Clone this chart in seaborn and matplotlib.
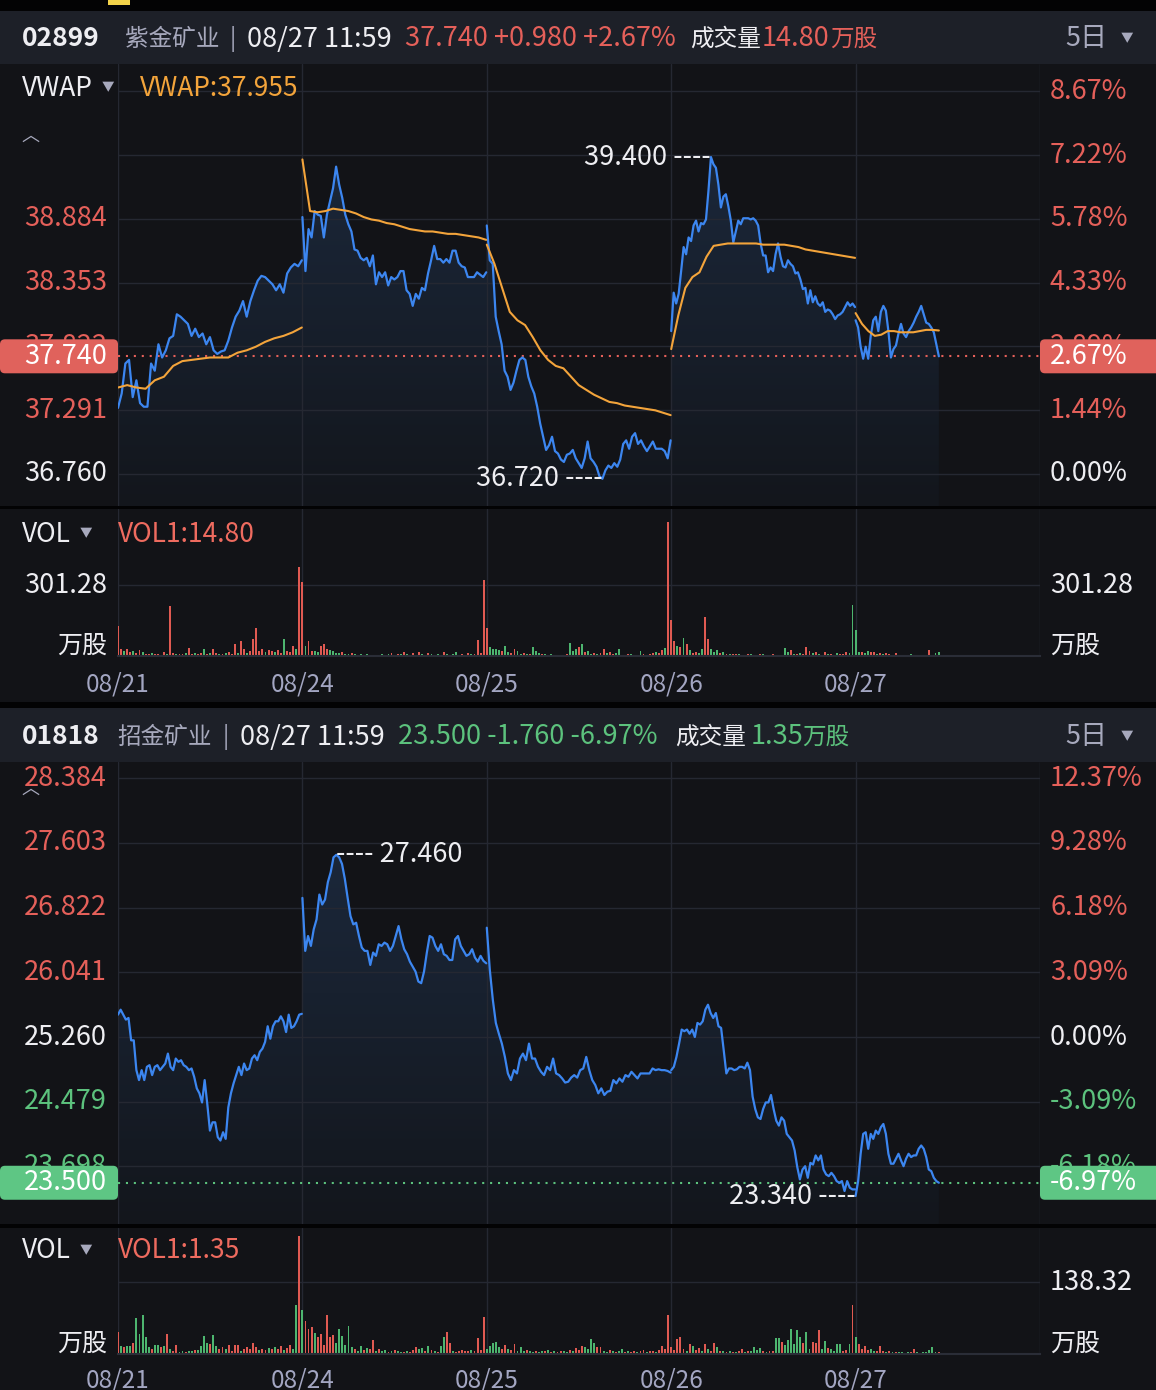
import numpy as np
import pandas as pd
import matplotlib
matplotlib.use('Agg')
import matplotlib.pyplot as plt
from matplotlib.patches import Rectangle, FancyBboxPatch
from matplotlib.colors import LinearSegmentedColormap
import seaborn as sns

W, H = 1156, 1390

DAYS = ['08/21', '08/24', '08/25', '08/26', '08/27']
DAY_MIN = 330        # 09:30-12:00 + 13:00-16:00
LAST_DAY_MIN = 150   # 08/27 up to 11:59
BAR_MIN = 5.5
STAMP = '08/27 11:59'

# ---------------- 02899 紫金矿业 ----------------
zj_code = '02899'
zj_name = '紫金矿业'
zj_prev = 36.760
zj_vol_today = 14.80
zj_ticks = [36.760, 37.291, 37.822, 38.353, 38.884, 39.415, 39.946]
zj_vol_tick = 301.28

zj_px_0821 = [37.31, 37.43, 37.68, 37.71, 37.40, 37.54, 37.35, 37.32, 37.32, 37.68,
              37.62, 37.84, 37.73, 37.79, 37.89, 37.91, 38.09, 38.07, 38.04, 38.01,
              37.91, 37.97, 37.90, 37.93, 37.84, 37.90, 37.79, 37.76, 37.78, 37.79,
              37.87, 37.98, 38.07, 38.12, 38.20, 38.07, 38.20, 38.29, 38.37, 38.41,
              38.40, 38.37, 38.34, 38.29, 38.34, 38.27, 38.43, 38.48, 38.51, 38.49, 38.54]
zj_px_0824 = [38.90, 38.45, 38.80, 38.73, 38.95, 38.92, 38.91, 38.73, 38.92, 39.03,
              39.14, 39.32, 39.17, 39.06, 38.92, 38.84, 38.78, 38.63, 38.62, 38.56,
              38.54, 38.56, 38.49, 38.58, 38.34, 38.44, 38.40, 38.44, 38.33, 38.40,
              38.38, 38.40, 38.45, 38.45, 38.29, 38.26, 38.16, 38.26, 38.22, 38.31,
              38.29, 38.43, 38.54, 38.66, 38.55, 38.55, 38.52, 38.55, 38.52, 38.62,
              38.62, 38.52, 38.49, 38.48, 38.40, 38.40, 38.40, 38.44, 38.42, 38.40, 38.44]
zj_px_0825 = [38.83, 38.54, 38.51, 38.07, 37.95, 37.84, 37.62, 37.57, 37.46, 37.52,
              37.62, 37.71, 37.73, 37.71, 37.57, 37.49, 37.43, 37.32, 37.18, 37.07,
              36.96, 37.00, 37.07, 36.95, 36.93, 36.88, 36.86, 36.92, 36.93, 36.96,
              36.89, 36.85, 36.81, 36.89, 37.03, 36.89, 36.86, 36.82, 36.74, 36.72,
              36.79, 36.83, 36.81, 36.85, 36.82, 36.88, 37.01, 37.04, 36.97, 37.07,
              37.10, 37.01, 37.04, 36.99, 36.95, 36.99, 37.03, 36.97, 36.97, 36.97,
              36.95, 36.89, 37.04]
zj_px_0826 = [37.95, 38.27, 38.18, 38.26, 38.45, 38.65, 38.59, 38.73, 38.70, 38.83,
              38.87, 38.78, 38.85, 38.84, 38.88, 39.12, 39.40, 39.34, 39.31, 39.17,
              38.98, 39.07, 39.09, 38.99, 38.87, 38.69, 38.78, 38.87, 38.84, 38.89,
              38.89, 38.89, 38.88, 38.89, 38.87, 38.83, 38.68, 38.58, 38.58, 38.44,
              38.48, 38.45, 38.59, 38.68, 38.57, 38.49, 38.48, 38.54, 38.51, 38.49,
              38.43, 38.44, 38.38, 38.30, 38.31, 38.18, 38.29, 38.19, 38.24, 38.18,
              38.16, 38.19, 38.11, 38.13, 38.12, 38.09, 38.05, 38.08, 38.09, 38.11,
              38.15, 38.19, 38.16, 38.18, 38.15]
zj_px_0827 = [38.04, 37.98, 37.82, 37.72, 37.82, 37.72, 37.91, 38.04, 38.07, 37.95,
              38.11, 38.16, 38.12, 37.95, 37.73, 37.80, 37.83, 37.93, 38.01, 37.93,
              37.90, 37.95, 37.98, 38.02, 38.07, 38.11, 38.16, 38.09, 38.02, 38.01,
              37.98, 37.94, 37.84, 37.74]

zj_vwap_0821 = [37.48, 37.50, 37.48, 37.47, 37.54, 37.57, 37.66, 37.70, 37.71, 37.72,
                37.73, 37.73, 37.73, 37.77, 37.79, 37.82, 37.86, 37.89, 37.91, 37.94, 37.98]
zj_vwap_0824 = [39.38, 38.95, 38.94, 38.95, 38.97, 38.96, 38.95, 38.93, 38.90, 38.88,
                38.87, 38.85, 38.84, 38.82, 38.80, 38.79, 38.78, 38.78, 38.77, 38.76,
                38.76, 38.75, 38.74, 38.73, 38.71]
zj_vwap_0825 = [38.67, 38.51, 38.31, 38.11, 38.04, 38.00, 37.90, 37.79, 37.71, 37.66,
                37.64, 37.57, 37.50, 37.46, 37.42, 37.39, 37.36, 37.35, 37.33, 37.32,
                37.31, 37.30, 37.29, 37.27, 37.25]
zj_vwap_0826 = [37.80, 38.08, 38.31, 38.40, 38.44, 38.57, 38.66, 38.67, 38.68, 38.68,
                38.68, 38.68, 38.68, 38.67, 38.67, 38.67, 38.67, 38.66, 38.65, 38.63,
                38.62, 38.61, 38.60, 38.59, 38.58, 38.57, 38.56]
zj_vwap_0827 = [38.10, 38.01, 37.95, 37.91, 37.92, 37.95, 37.95, 37.94, 37.94, 37.94,
                37.95, 37.96, 37.96, 37.955]

zj_vol_0821 = [129, 28, 20, 30, 18, 22, 12, 24, 15, 10,
               9, 12, 8, 10, 6, 18, 10, 211, 14, 8,
               10, 7, 12, 32, 10, 14, 9, 12, 28, 8,
               11, 30, 12, 9, 8, 12, 15, 10, 51, 14,
               62, 30, 12, 20, 74, 118, 22, 28, 18, 26,
               22, 15, 24, 12, 74, 20, 16, 42, 30, 379]
zj_dir_0821 = 'rrgrrgrrgr rgrrgrgrrg rrgrrgrrgr grrgrgrrrg rrgrrrrrgr rgrrgrrrgr'
zj_vol_0824 = [312, 42, 62, 22, 20, 18, 42, 49, 30, 24,
               20, 14, 12, 16, 10, 8, 12, 9, 6, 8,
               5, 7, 4, 5, 3, 6, 9, 5, 7, 12,
               6, 9, 10, 16, 8, 5, 12, 6, 18, 8,
               5, 14, 8, 6, 10, 4, 16, 8, 6, 9,
               18, 5, 7, 6, 12, 8, 10, 67, 14, 323]
zj_dir_0824 = 'rgrrggrrrg gggrggrgrg rgrgrggrgr grgrgrrgrg rrgrgrrgrg grrgrgrrrr'
zj_vol_0825 = [118, 38, 28, 30, 26, 20, 44, 16, 12, 30,
               20, 8, 12, 10, 9, 38, 22, 12, 8, 10,
               6, 9, 5, 4, 6, 3, 8, 56, 22, 30,
               38, 49, 18, 22, 10, 14, 8, 12, 28, 14,
               16, 10, 12, 28, 6, 5, 8, 10, 4, 6,
               21, 9, 6, 10, 14, 18, 12, 25, 32, 569]
zj_dir_0825 = 'rggggrggrr ggrgrgggrg rgrgrgrggg rgrggrgrrg rrggrgrgrg grgrrgrrgr'
zj_vol_0826 = [153, 62, 42, 38, 76, 49, 25, 14, 18, 12,
               28, 167, 74, 31, 16, 24, 12, 16, 10, 9,
               8, 7, 10, 6, 5, 8, 10, 6, 5, 9,
               7, 4, 6, 8, 5, 3, 4, 32, 16, 26,
               10, 8, 14, 9, 38, 21, 12, 18, 9, 6,
               18, 8, 10, 6, 12, 8, 10, 17, 12, 215]
zj_dir_0826 = 'rrgrgrgrrg grrgggrgrg rrgrgrgrgr grgrgrgggr grgrrrgrgr rgrrgrrrgg'
zj_vol_0827 = [111, 18, 18, 12, 21, 16, 17, 10, 12, 8,
               13, 9, 6, 14, 5, 4, 6, 3, 7, 5,
               6, 4, 3, 5, 25, 3, 14, 15]
zj_dir_0827 = 'ggrggrrgrg rrgrgrrggg rrgrrrgg'

# ---------------- 01818 招金矿业 ----------------
zh_code = '01818'
zh_name = '招金矿业'
zh_prev = 25.260
zh_vol_today = 1.35
zh_ticks = [23.698, 24.479, 25.260, 26.041, 26.822, 27.603, 28.384]
zh_vol_tick = 138.32

zh_px_0821 = [25.53, 25.59, 25.53, 25.47, 25.49, 25.22, 25.22, 24.86, 24.74, 24.86,
              24.74, 24.90, 24.92, 24.80, 24.90, 24.92, 24.86, 24.90, 24.94, 25.06,
              24.90, 24.86, 25.00, 24.96, 24.98, 24.92, 24.90, 24.86, 24.88, 24.78,
              24.64, 24.58, 24.47, 24.74, 24.45, 24.13, 24.23, 24.23, 24.05, 24.01,
              24.11, 24.03, 24.41, 24.58, 24.70, 24.80, 24.90, 24.80, 24.94, 24.86,
              24.88, 25.00, 25.04, 24.98, 25.08, 25.12, 25.20, 25.39, 25.24, 25.39,
              25.45, 25.45, 25.51, 25.45, 25.32, 25.53, 25.37, 25.39, 25.45, 25.53, 25.54]
zh_px_0824 = [26.94, 26.30, 26.48, 26.36, 26.56, 26.68, 26.98, 26.86, 26.92, 27.13,
              27.25, 27.43, 27.46, 27.43, 27.35, 27.17, 26.94, 26.72, 26.62, 26.64,
              26.48, 26.34, 26.30, 26.30, 26.13, 26.28, 26.24, 26.38, 26.36, 26.40,
              26.38, 26.30, 26.36, 26.48, 26.60, 26.44, 26.32, 26.26, 26.17, 26.11,
              26.05, 25.93, 25.91, 26.05, 26.28, 26.48, 26.46, 26.36, 26.30, 26.38,
              26.26, 26.24, 26.19, 26.19, 26.44, 26.48, 26.36, 26.30, 26.24, 26.26,
              26.32, 26.22, 26.17, 26.24, 26.18, 26.15]
zh_px_0825 = [26.58, 26.07, 25.71, 25.43, 25.30, 25.18, 25.02, 24.82, 24.74, 24.86,
              24.82, 25.00, 25.06, 24.98, 25.18, 25.00, 25.00, 24.90, 24.84, 24.80,
              24.90, 24.86, 25.00, 24.82, 24.80, 24.76, 24.71, 24.72, 24.77, 24.80,
              24.77, 24.86, 24.88, 25.02, 24.86, 24.74, 24.68, 24.58, 24.64, 24.56,
              24.60, 24.61, 24.74, 24.70, 24.76, 24.72, 24.80, 24.78, 24.84, 24.80,
              24.76, 24.82, 24.82, 24.82, 24.82, 24.88, 24.86, 24.87, 24.86, 24.86,
              24.85, 24.83]
zh_px_0826 = [24.86, 24.90, 25.02, 25.18, 25.35, 25.33, 25.35, 25.30, 25.35, 25.26,
              25.43, 25.41, 25.45, 25.59, 25.65, 25.55, 25.49, 25.55, 25.39, 25.37,
              25.10, 24.82, 24.88, 24.88, 24.86, 24.87, 24.90, 24.90, 24.88, 24.95,
              24.86, 24.54, 24.39, 24.29, 24.27, 24.39, 24.47, 24.47, 24.56, 24.39,
              24.25, 24.19, 24.29, 24.25, 24.09, 24.05, 24.01, 23.89, 23.69, 23.54,
              23.66, 23.70, 23.56, 23.74, 23.72, 23.83, 23.77, 23.83, 23.66, 23.60,
              23.58, 23.62, 23.58, 23.52, 23.50, 23.52, 23.40, 23.52, 23.44, 23.42, 23.42]
zh_px_0827 = [23.34, 23.52, 23.85, 24.09, 24.11, 23.91, 24.09, 24.03, 24.13, 24.09,
              24.17, 24.21, 24.09, 23.85, 23.73, 23.73, 23.79, 23.85, 23.77, 23.70,
              23.79, 23.85, 23.81, 23.83, 23.83, 23.91, 23.95, 23.91, 23.81, 23.66,
              23.64, 23.56, 23.52, 23.50]

zh_vol_0821 = [43, 16, 14, 16, 16, 21, 69, 39, 75, 32,
               14, 10, 18, 18, 13, 16, 39, 10, 6, 18,
               3, 5, 4, 6, 5, 8, 8, 16, 35, 21,
               19, 37, 16, 10, 14, 10, 18, 6, 18, 18,
               6, 10, 13, 10, 22, 14, 8, 10, 8, 12,
               10, 14, 10, 16, 8, 12, 18, 10, 95, 226]
zh_dir_0821 = 'rgrggrgggg grggrgrgrr ggrggrgggg rggrrgrrrr grrrrrgrrg rgrrgrrggr'
zh_vol_0824 = [85, 64, 48, 51, 40, 32, 38, 18, 74, 32,
               37, 22, 48, 34, 18, 54, 14, 10, 6, 16,
               8, 12, 10, 26, 6, 10, 5, 8, 4, 6,
               8, 5, 4, 3, 6, 4, 8, 14, 10, 12,
               6, 16, 8, 6, 4, 16, 32, 42, 22, 5,
               4, 6, 8, 5, 6, 7, 5, 31, 8, 71]
zh_dir_0824 = 'grrrgrrrrr rggggggrgg rgrrgrggrg rggrgrrrgg rgrgrggrrg rrrrrgrrrr'
zh_vol_0825 = [10, 16, 22, 24, 13, 10, 18, 10, 8, 19,
               6, 13, 5, 8, 6, 4, 5, 4, 6, 5,
               8, 4, 6, 3, 5, 6, 4, 8, 5, 12,
               8, 16, 13, 10, 28, 22, 13, 13, 6, 4,
               8, 5, 4, 6, 10, 3, 5, 4, 6, 3,
               5, 8, 4, 5, 6, 4, 7, 15, 9, 74]
zh_dir_0825 = 'gggggrrgrr gggrggrggr grgrrggrgr rrggggrrgg rgrggrgrrg rrgrrgrrrr'
zh_vol_0826 = [13, 8, 29, 32, 10, 6, 19, 16, 8, 11,
               6, 19, 10, 5, 22, 14, 6, 6, 4, 5,
               3, 4, 6, 10, 4, 5, 6, 14, 8, 12,
               5, 4, 6, 6, 31, 31, 24, 17, 27, 48,
               19, 46, 33, 21, 42, 10, 24, 21, 47, 10,
               25, 11, 10, 6, 19, 19, 5, 8, 19, 95]
zh_dir_0826 = 'rrrrrgrgrr grgrrgrgrg rgrrgrgggg rgrrggrggg gggrggrrrg grggggrrgr'
zh_vol_0827 = [32, 19, 10, 16, 8, 10, 5, 6, 16, 6,
               3, 5, 4, 3, 3, 4, 2, 3, 4, 10,
               4, 2, 3, 4, 8, 13, 3, 4]
zh_dir_0827 = 'grrrrggrrr grgrggrgrr grgggggr'

# ---------------- style ----------------
BG = '#121317'
HEAD = '#1d2028'
SEP = '#030304'
GRID = '#252832'
UP = '#e5605a'
DOWN = '#5cc27d'
UP_BAR = '#e05a52'
DOWN_BAR = '#4db56f'
UP_BOX = '#e0625c'
DOWN_BOX = '#5ec684'
LINE = '#3c86f0'
VWAP_C = '#f3a43b'
TXT = '#eeeef2'
SUB = '#a7a9bd'
DATE_C = '#a3a6c2'
VOL_C = '#ee6b5f'
FS = 19.5        # numbers
FS_CJK = 17      # chinese text
FS_DATE = 17.5
FS_TAG = 19
FILL = LinearSegmentedColormap.from_list('fill', ['#13161c', '#1d2c42'])

sns.set_theme(style='dark')
plt.rcParams['font.family'] = ['Noto Sans CJK SC', 'DejaVu Sans']
plt.rcParams['axes.unicode_minus'] = False

fig = plt.figure(figsize=(W / 100, H / 100), dpi=100, facecolor=BG)
bg = fig.add_axes([0, 0, 1, 1], zorder=-5)
bg.set_xlim(0, W)
bg.set_ylim(H, 0)
bg.axis('off')
ov = fig.add_axes([0, 0, 1, 1], zorder=5)
ov.set_xlim(0, W)
ov.set_ylim(H, 0)
ov.axis('off')


def frame(y0, y1):
    return [118 / W, 1 - y1 / H, 922 / W, (y1 - y0) / H]


def band(y0, y1, color, x0=0, x1=W):
    bg.add_patch(Rectangle((x0, y0), x1 - x0, y1 - y0, color=color, lw=0))


def tone(v, prev):
    if v > prev + 1e-9:
        return UP
    if v < prev - 1e-9:
        return DOWN
    return TXT


def day_frame(day_lists, col):
    parts = []
    for d, vals in enumerate(day_lists):
        minutes = LAST_DAY_MIN if d == len(day_lists) - 1 else DAY_MIN
        xs = d + np.linspace(0, (minutes - 1) / DAY_MIN, len(vals))
        parts.append(pd.DataFrame({'day': DAYS[d], 'x': xs, col: vals}))
    return pd.concat(parts, ignore_index=True)


def vol_frame(vol_lists, dir_lists):
    parts = []
    for d, (vals, dirs) in enumerate(zip(vol_lists, dir_lists)):
        xs = d + np.arange(len(vals)) * BAR_MIN / DAY_MIN
        up = [ch == 'r' for ch in dirs.replace(' ', '')]
        parts.append(pd.DataFrame({'x': xs, 'vol': vals, 'up': up}))
    return pd.concat(parts, ignore_index=True)


def header(y, code, name, prev, last, vol_today, xs):
    c = tone(last, prev)
    chg = last - prev
    pct = chg / prev * 100
    ov.text(xs[0], y, code, color=TXT, fontweight='bold', va='center', fontsize=FS - 0.5)
    ov.text(xs[1], y, name, color=SUB, va='center', fontsize=FS_CJK)
    ov.text(xs[2], y, '|', color=SUB, va='center', fontsize=FS_CJK)
    ov.text(xs[3], y, STAMP, color=TXT, va='center', fontsize=FS)
    ov.text(xs[4], y, f'{last:.3f} {chg:+.3f} {pct:+.2f}%', color=c, va='center', fontsize=FS)
    ov.text(xs[5], y, '成交量', color=TXT, va='center', fontsize=FS_CJK)
    ov.text(xs[6], y, f'{vol_today:.2f}', color=c, va='center', fontsize=FS)
    ov.text(xs[7], y, '万股', color=c, va='center', fontsize=FS_CJK)
    ov.text(1065, y, '5日', color=SUB, va='center', fontsize=FS)
    ov.text(1121, y, '▼', color=SUB, va='center', fontsize=9)


def price_panel(y0, y1, px_days, prev, ticks, left_skip, ylim, vwap_days=None):
    ax = fig.add_axes(frame(y0, y1))
    ax.set_facecolor(BG)
    df = day_frame(px_days, 'price')
    last = df['price'].iloc[-1]

    poly = ax.fill_between(df['x'], df['price'], ylim[0], lw=0)
    clip = poly.get_paths()[0]
    poly.remove()
    grad = ax.imshow(np.linspace(0, 1, 256)[:, None], extent=(0, 5, ylim[0], ylim[1]),
                     origin='lower', aspect='auto', cmap=FILL, zorder=0.3)
    grad.set_clip_path(clip, transform=ax.transData)

    sns.lineplot(data=df, x='x', y='price', units='day', estimator=None,
                 color=LINE, lw=1.6, ax=ax, legend=False, zorder=3)
    if vwap_days is not None:
        dv = day_frame(vwap_days, 'vwap')
        sns.lineplot(data=dv, x='x', y='vwap', units='day', estimator=None,
                     color=VWAP_C, lw=1.5, ax=ax, legend=False, zorder=4)
    ax.axhline(last, color=tone(last, prev), lw=1.5, ls=(0, (1, 2.8)), zorder=2)

    ax.set_xlim(0, 5)
    ax.set_ylim(*ylim)
    ax.set_xticks(range(6))
    ax.set_yticks(ticks)
    ax.grid(True, color=GRID, lw=1)
    ax.tick_params(length=0, labelbottom=False, labelleft=False)
    ax.set_xlabel('')
    ax.set_ylabel('')
    for s in ax.spines.values():
        s.set_visible(False)

    ytr = ax.get_yaxis_transform()
    for k, v in enumerate(ticks):
        c = tone(v, prev)
        if k < len(ticks) - left_skip:
            ax.text(-11 / 922, v, f'{v:.3f}', transform=ytr, ha='right', va='center',
                    color=c, fontsize=FS, clip_on=False)
        ax.text(1 + 10 / 922, v, f'{(v / prev - 1) * 100:.2f}%', transform=ytr,
                ha='left', va='center', color=c, fontsize=FS, clip_on=False)

    # high / low markers
    for idx in (df['price'].idxmax(), df['price'].idxmin()):
        x, v = df.loc[idx, 'x'], df.loc[idx, 'price']
        if x > 2.5:
            ax.text(x, v, f'{v:.3f} ----', ha='right', va='center', color=TXT,
                    fontsize=FS, zorder=6)
        else:
            ax.text(x, v, f'---- {v:.3f}', ha='left', va='center', color=TXT,
                    fontsize=FS, zorder=6)

    # last price tags
    y = H - ax.transData.transform((0, last))[1]
    fc = UP_BOX if last >= prev else DOWN_BOX
    ov.add_patch(FancyBboxPatch((0, y - 17), 118, 34, boxstyle='round,pad=0,rounding_size=5',
                                fc=fc, ec='none'))
    ov.add_patch(FancyBboxPatch((1040, y - 17), 130, 34, boxstyle='round,pad=0,rounding_size=5',
                                fc=fc, ec='none'))
    ov.text(107, y, f'{last:.3f}', ha='right', va='center', color='white', fontsize=FS)
    ov.text(1050, y, f'{(last / prev - 1) * 100:.2f}%', ha='left', va='center',
            color='white', fontsize=FS)
    return ax


def volume_panel(y0, y1, vol_days, dir_days, vol_tick, vmax, left_label, date_y):
    axv = fig.add_axes(frame(y0, y1))
    axv.set_facecolor(BG)
    dv = vol_frame(vol_days, dir_days)
    axv.bar(dv['x'], dv['vol'], width=0.62 * BAR_MIN / DAY_MIN,
            color=np.where(dv['up'], UP_BAR, DOWN_BAR), lw=0, zorder=2)
    axv.set_xlim(0, 5)
    axv.set_ylim(0, vmax)
    axv.set_xticks(range(6))
    axv.set_yticks([vol_tick])
    axv.grid(True, color=GRID, lw=1)
    axv.tick_params(length=0, labelbottom=False, labelleft=False)
    for name, s in axv.spines.items():
        s.set_visible(name == 'bottom')
    axv.spines['bottom'].set_color('#2a2d37')
    axv.spines['bottom'].set_linewidth(1.5)

    ytr = axv.get_yaxis_transform()
    if left_label:
        axv.text(-11 / 922, vol_tick, f'{vol_tick:.2f}', transform=ytr, ha='right',
                 va='center', color=TXT, fontsize=FS, clip_on=False)
    axv.text(1 + 10 / 922, vol_tick, f'{vol_tick:.2f}', transform=ytr, ha='left',
             va='center', color=TXT, fontsize=FS, clip_on=False)
    ov.text(107, y1 - 10, '万股', ha='right', va='center', color=TXT, fontsize=FS_CJK + 1)
    ov.text(1050, y1 - 10, '万股', ha='left', va='center', color=TXT, fontsize=FS_CJK + 1)

    xtr = axv.get_xaxis_transform()
    off = -(date_y - y1) / (y1 - y0)
    for d, lab in enumerate(DAYS):
        axv.text(d, off, lab, transform=xtr, ha='center', va='center', color=DATE_C,
                 fontsize=FS_DATE, clip_on=False)
    return axv


# ---------------- frame bands ----------------
band(0, 11, SEP)
band(0, 5, '#f3d34a', 108, 130)
band(11, 64, HEAD)
band(506, 509, SEP)
band(702, 708, SEP)
band(708, 762, HEAD)
band(1224, 1228, SEP)

# ---------------- 02899 ----------------
header(39, zj_code, zj_name, zj_prev, zj_px_0827[-1], zj_vol_today,
       [22, 125, 230, 247, 405, 690, 762, 830])
price_panel(64, 506, [zj_px_0821, zj_px_0824, zj_px_0825, zj_px_0826, zj_px_0827],
            zj_prev, zj_ticks, 2, (36.493, 40.175),
            vwap_days=[zj_vwap_0821, zj_vwap_0824, zj_vwap_0825, zj_vwap_0826, zj_vwap_0827])
ov.text(22, 88, 'VWAP', color=TXT, va='center', fontsize=FS_TAG)
ov.text(102, 88, '▼', color=SUB, va='center', fontsize=9)
ov.text(140, 88, f'VWAP:{zj_vwap_0827[-1]:.3f}', color=VWAP_C, va='center', fontsize=FS_TAG)
ov.text(30, 136, '︿', color=SUB, ha='center', va='center', fontsize=13)
volume_panel(509, 656, [zj_vol_0821, zj_vol_0824, zj_vol_0825, zj_vol_0826, zj_vol_0827],
             [zj_dir_0821, zj_dir_0824, zj_dir_0825, zj_dir_0826, zj_dir_0827],
             zj_vol_tick, 623.8, True, 684)
ov.text(22, 534, 'VOL', color=TXT, va='center', fontsize=FS_TAG)
ov.text(80, 534, '▼', color=SUB, va='center', fontsize=9)
ov.text(118, 534, f'VOL1:{zj_vol_today:.2f}', color=VOL_C, va='center', fontsize=FS_TAG)

# ---------------- 01818 ----------------
header(737, zh_code, zh_name, zh_prev, zh_px_0827[-1], zh_vol_today,
       [22, 117, 223, 240, 398, 675, 751, 802])
price_panel(762, 1224, [zh_px_0821, zh_px_0824, zh_px_0825, zh_px_0826, zh_px_0827],
            zh_prev, zh_ticks, 0, (23.002, 28.581))
ov.text(30, 789, '︿', color=SUB, ha='center', va='center', fontsize=13)
volume_panel(1228, 1354, [zh_vol_0821, zh_vol_0824, zh_vol_0825, zh_vol_0826, zh_vol_0827],
             [zh_dir_0821, zh_dir_0824, zh_dir_0825, zh_dir_0826, zh_dir_0827],
             zh_vol_tick, 242.1, False, 1381)
ov.text(22, 1251, 'VOL', color=TXT, va='center', fontsize=FS_TAG)
ov.text(80, 1251, '▼', color=SUB, va='center', fontsize=9)
ov.text(118, 1251, f'VOL1:{zh_vol_today:.2f}', color=VOL_C, va='center', fontsize=FS_TAG)

fig.savefig('out.png', dpi=100, facecolor=fig.get_facecolor())
